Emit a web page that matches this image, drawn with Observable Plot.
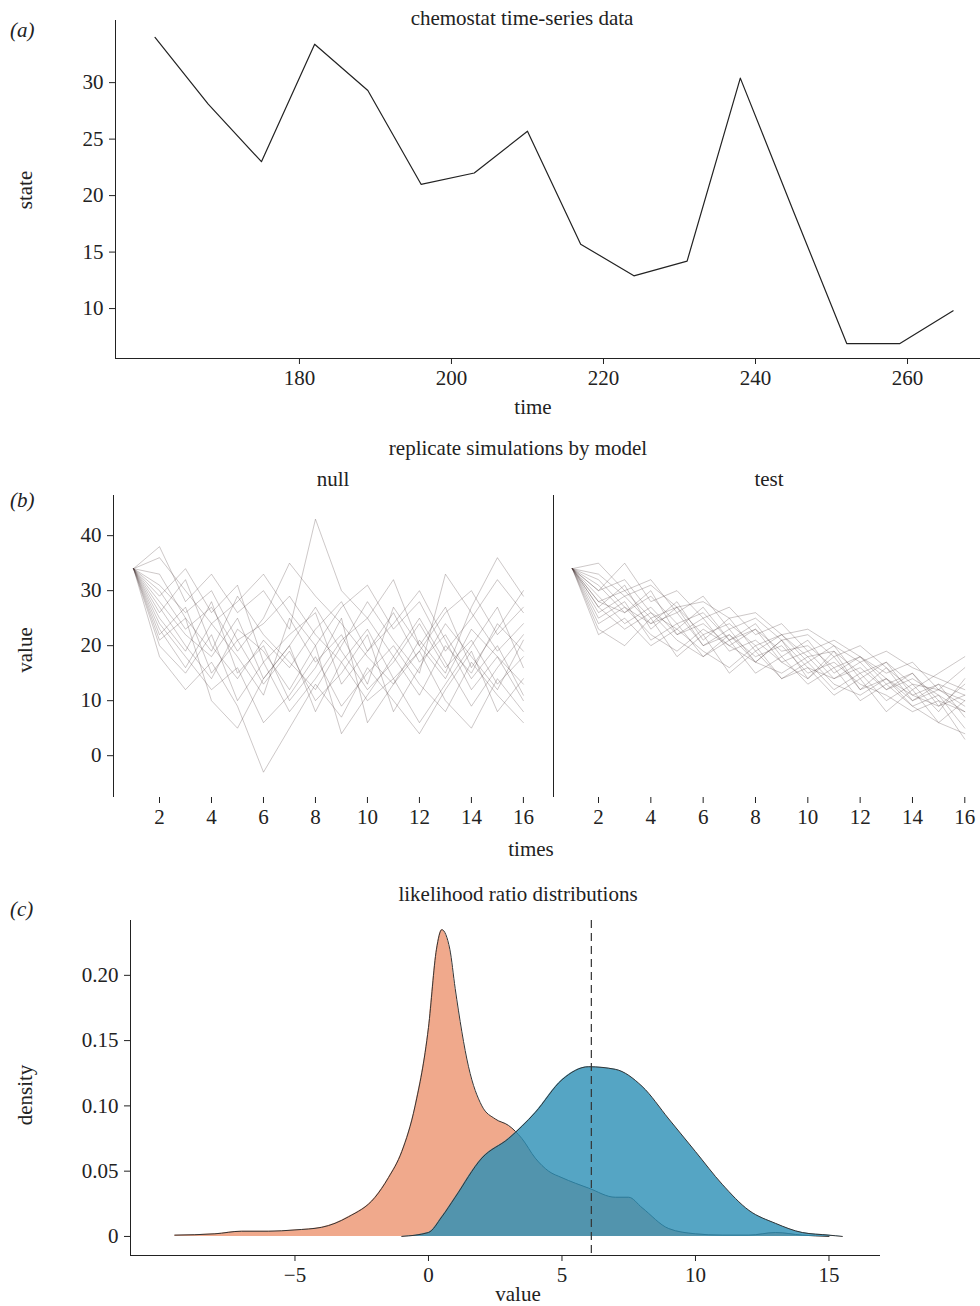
<!DOCTYPE html>
<html><head><meta charset="utf-8">
<script src="https://cdn.jsdelivr.net/npm/d3@7"></script>
<script src="https://cdn.jsdelivr.net/npm/@observablehq/plot@0.6"></script>
<style>
body{margin:0;background:#fff;font-family:"Liberation Serif",serif;color:#222}
#wrap{position:relative;width:980px;height:1306px;overflow:hidden}
.abs{position:absolute;font-size:21px;white-space:nowrap}
.rot{transform:translate(-50%,-50%) rotate(-90deg)}
.ctr{transform:translateX(-50%)}
svg{position:absolute}
</style></head><body><div id="wrap"></div>
<script>
// (a) chemostat data
const chemTimes=[161,168,175,182,189,196,203,210,217,224,231,238,245,252,259,266];
const chemState=[34,28.1,23,33.4,29.3,21,22,25.7,15.7,12.9,14.2,30.4,18.6,6.9,6.9,9.8];
const xTicksA=[180,200,220,240,260];
const yTicksA=[10,15,20,25,30];
// (b) replicate simulations (times 1..16)
const simTimes=[1,2,3,4,5,6,7,8,9,10,11,12,13,14,15,16];
const nullRuns=[
[34,28,22,18,25,14,20,27,19,12,17,24,16,21,13,18],
[34,20,15,22,10,17,8,14,21,25,18,11,20,15,24,19],
[34,31,26,30,21,24,29,22,17,23,14,19,26,30,22,27],
[34,24,18,12,16,6,11,18,9,15,20,13,8,17,11,6],
[34,36,30,24,28,33,26,20,27,31,23,28,19,25,32,26],
[34,26,32,20,14,21,16,23,28,19,26,17,22,14,20,11],
[34,18,12,17,9,-3,5,13,7,16,10,4,12,19,8,14],
[34,30,23,27,19,25,35,29,24,18,13,21,15,27,36,29],
[34,22,27,15,21,13,19,10,15,22,8,16,24,18,12,21],
[34,38,28,33,26,30,23,43,30,25,32,20,27,16,23,30],
[34,27,20,14,23,19,12,20,4,11,18,25,17,9,16,22],
[34,23,16,24,18,11,25,17,22,13,27,20,14,23,18,10],
[34,33,25,19,29,22,17,12,20,28,21,15,33,26,19,24],
[34,21,25,10,5,14,20,8,17,10,14,6,13,20,27,16],
[34,29,34,26,31,17,22,26,13,19,24,30,21,12,18,13],
[34,25,19,28,15,20,10,16,25,6,13,19,10,5,14,8]];
const testRuns=[
[34,28,30,25,27,22,24,20,22,18,19,15,17,13,12,10],
[34,24,27,22,19,23,20,17,21,16,14,17,12,15,9,11],
[34,31,26,29,24,26,21,23,19,20,16,18,14,11,13,7],
[34,27,23,26,21,18,22,17,15,18,13,11,14,9,6,4],
[34,33,29,31,27,28,25,26,22,23,20,17,19,16,14,12],
[34,22,25,20,23,19,16,20,14,17,12,15,10,13,8,14],
[34,30,35,28,30,25,27,22,24,19,21,18,15,17,12,16],
[34,26,29,24,26,20,22,18,20,15,17,13,11,8,10,3],
[34,29,24,27,22,25,19,21,17,19,14,16,12,14,11,8],
[34,35,30,32,26,29,23,25,21,22,18,20,16,12,15,18],
[34,25,28,21,24,18,21,15,18,13,16,10,13,9,11,5],
[34,28,26,30,22,24,20,23,17,14,19,12,14,10,12,9],
[34,32,27,24,28,21,25,19,22,17,20,14,17,11,9,13],
[34,23,20,25,18,22,15,19,14,16,11,14,8,12,6,10],
[34,30,32,26,23,27,21,24,18,21,15,18,13,15,10,8],
[34,27,31,23,27,20,23,17,21,14,18,12,16,10,13,11]];
const xTicksB=[2,4,6,8,10,12,14,16];
const yTicksB=[0,10,20,30,40];
// (c) densities
const nullX=[-9.5,-8,-7,-6,-5,-4,-3,-2,-1.5,-1,-0.5,0,0.3,0.5,0.8,1,1.5,2,2.5,3,3.5,4,4.5,5,6,7,7.5,8,9,10,11,12,13,14,15];
const nullD=[0.001,0.002,0.004,0.004,0.005,0.007,0.015,0.03,0.045,0.065,0.10,0.16,0.22,0.235,0.22,0.19,0.13,0.10,0.09,0.085,0.075,0.06,0.05,0.045,0.037,0.03,0.03,0.022,0.006,0.002,0.001,0.001,0.003,0.001,0];
const testX=[-1,0,0.5,1,2,3,4,5,6,7,8,9,10,11,12,13,14,15,15.5];
const testD=[0,0.003,0.015,0.03,0.06,0.075,0.095,0.12,0.13,0.128,0.115,0.09,0.065,0.04,0.02,0.01,0.003,0.001,0];
const observedLR=6.1;
const xTicksC=[-5,0,5,10,15];
const yTicksC=[0,0.05,0.10,0.15,0.20];

const wrap=document.getElementById("wrap");
function txt(s,x,y,cls){const d=document.createElement("div");d.className="abs "+(cls||"");d.textContent=s;d.style.left=x+"px";d.style.top=y+"px";wrap.appendChild(d);return d;}
function place(svg,top,left){svg.style.top=top+"px";svg.style.left=(left||0)+"px";wrap.appendChild(svg);}
const style={fontFamily:"Liberation Serif, serif",fontSize:"21px",color:"#222",background:"transparent"};

// Panel a
const xa=[155.8,269.6], ya=[5.58,35.5];
place(Plot.plot({width:980,height:420,marginLeft:115,marginRight:0,marginTop:20,marginBottom:62,style,
 x:{domain:xa},y:{domain:ya},
 marks:[
  Plot.axisX({ticks:xTicksA,tickSize:6,tickPadding:6,label:null}),
  Plot.axisY({ticks:yTicksA,tickSize:6,tickPadding:6,label:null}),
  Plot.ruleX([xa[0]],{stroke:"#222"}),Plot.ruleY([ya[0]],{stroke:"#222"}),
  Plot.line(chemTimes.map((t,i)=>({t,v:chemState[i]})),{x:"t",y:"v",stroke:"#222",strokeWidth:1.2})
 ]}),0);
txt("(a)",10,18).style.fontStyle="italic";
txt("chemostat time-series data",522,6,"ctr");
txt("time",533,395,"ctr");
txt("state",25,190,"rot");

// Panel b
function sims(runs,width,ml,dom,showY){
 const data=[];runs.forEach((r,k)=>r.forEach((v,i)=>data.push({run:k,t:simTimes[i],v})));
 const yb=[-7.6,47.3];
 const marks=[
   Plot.axisX({ticks:xTicksB,tickSize:6,tickPadding:6,label:null}),
   Plot.ruleX([dom[0]],{stroke:"#222"}),
   Plot.line(data,{x:"t",y:"v",z:"run",stroke:"#4a3a3a",strokeOpacity:0.28,strokeWidth:1})];
 if(showY) marks.unshift(Plot.axisY({ticks:yTicksB,tickSize:6,tickPadding:6,label:null}));
 return Plot.plot({width,height:347,marginLeft:ml,marginRight:0,marginTop:0,marginBottom:45,style,
  x:{domain:dom},y:{domain:yb,axis:showY?undefined:null},marks});
}
place(sims(nullRuns,545,113,[0.23,16.85],true),495,0);
place(sims(testRuns,427,0,[0.28,16.6],false),495,553);
txt("replicate simulations by model",518,436,"ctr");
txt("null",333,467,"ctr");
txt("test",769,467,"ctr");
txt("(b)",10,488).style.fontStyle="italic";
txt("times",531,837,"ctr");
txt("value",25,650,"rot");

// Panel c
const xc=[-11.16,16.93], yc=[-0.0146,0.242];
place(Plot.plot({width:980,height:386,marginLeft:130,marginRight:100,marginTop:0,marginBottom:51,style,
 x:{domain:xc},y:{domain:yc},
 marks:[
  Plot.axisX({ticks:xTicksC,tickSize:6,tickPadding:6,label:null}),
  Plot.axisY({ticks:yTicksC,tickSize:6,tickPadding:6,label:null,tickFormat:d=>d===0?"0":d.toFixed(2)}),
  Plot.ruleX([xc[0]],{stroke:"#222"}),Plot.ruleY([yc[0]],{stroke:"#222"}),
  Plot.areaY(nullX.map((x,i)=>({x,d:nullD[i]})),{x:"x",y:"d",fill:"#eea07f",fillOpacity:0.9,curve:"monotone-x"}),
  Plot.line(nullX.map((x,i)=>({x,d:nullD[i]})),{x:"x",y:"d",stroke:"#333",strokeWidth:1,curve:"monotone-x"}),
  Plot.areaY(testX.map((x,i)=>({x,d:testD[i]})),{x:"x",y:"d",fill:"#2a8fb5",fillOpacity:0.8,curve:"monotone-x"}),
  Plot.line(testX.map((x,i)=>({x,d:testD[i]})),{x:"x",y:"d",stroke:"#333",strokeWidth:1,curve:"monotone-x"}),
  Plot.ruleX([observedLR],{stroke:"#333",strokeDasharray:"8,5",strokeWidth:1.2})
 ]}),920,0);
txt("(c)",10,897).style.fontStyle="italic";
txt("likelihood ratio distributions",518,882,"ctr");
txt("value",518,1282,"ctr");
txt("density",25,1095,"rot");
</script></body></html>
